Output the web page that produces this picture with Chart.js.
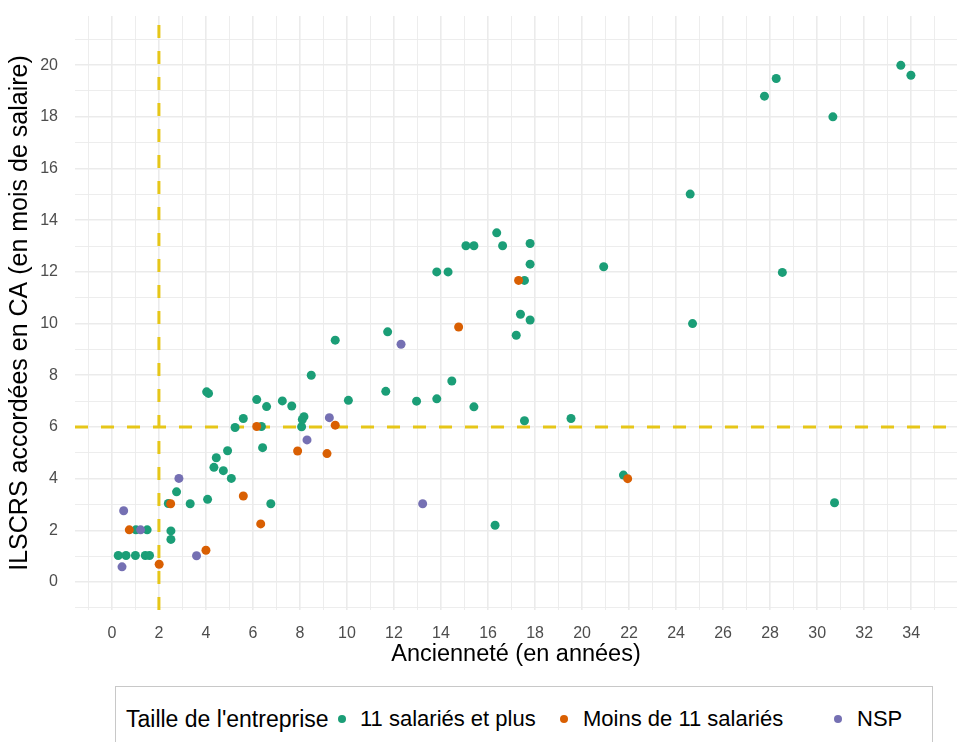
<!DOCTYPE html>
<html lang="fr">
<head>
<meta charset="utf-8">
<script src="https://cdn.jsdelivr.net/npm/chart.js@4.4.1/dist/chart.umd.min.js"></script>
<style>
  html,body{margin:0;padding:0;background:#fff;overflow:hidden;}
  #wrap{position:relative;width:963px;height:742px;}
  #box{position:absolute;left:0;top:0;width:963px;height:680px;}
  #legende{position:absolute;left:115px;top:686px;width:816px;height:80px;border:1.5px solid #c8c8c8;
    font-family:"Liberation Sans",Arial,sans-serif;color:#000;}
  #legende span{position:absolute;top:32px;transform:translateY(-50%);white-space:nowrap;}
  #legende .titre{font-size:23px;}
  #legende .pt{width:8px;height:8px;border-radius:50%;margin-left:-4px;}
  #legende .lab{font-size:22px;}
</style>
</head>
<body>
<div id="wrap">
  <div id="box"><canvas id="nuage"></canvas></div>
  <div id="legende"><span class="titre" style="left:10px">Taille de l'entreprise</span></div>
</div>
<script>
// 11 salariés et plus
const anc11 = [0.27,0.6,1.0,1.42,1.6,1.02,1.5,2.4,2.51,2.51,2.75,3.33,4.07,4.03,4.11,4.34,4.44,4.74,4.92,5.08,
  5.24,5.59,6.16,6.36,6.41,6.58,6.76,7.25,7.65,8.07,8.1,8.17,8.48,9.5,10.06,11.65,11.73,12.96,13.82,13.82,
  14.3,14.46,15.06,15.4,15.4,16.3,16.37,16.62,17.2,17.38,17.55,17.55,17.79,17.79,17.79,19.53,20.92,21.76,
  24.6,24.7,27.76,28.26,28.52,30.67,30.74,33.56,33.99];
const mois11 = [1.03,1.03,1.03,1.03,1.03,2.02,2.02,3.04,1.98,1.65,3.49,3.03,3.2,7.36,7.3,4.44,4.81,4.31,5.08,4.01,
  5.98,6.33,7.06,6.02,5.2,6.79,3.03,7.01,6.81,6.01,6.29,6.4,8.0,9.36,7.03,7.38,9.68,7.0,7.09,12.0,
  12.0,7.78,13.01,13.01,6.78,2.2,13.51,13.01,9.55,10.36,11.67,6.24,13.1,12.3,10.14,6.33,12.2,4.14,
  15.01,10.0,18.8,19.48,11.98,18.0,3.07,19.99,19.61];
// Moins de 11 salariés
const ancMoins = [0.74,2.01,2.5,4.0,5.59,6.16,6.33,7.9,9.15,9.5,14.75,17.3,21.94];
const moisMoins = [2.02,0.69,3.03,1.23,3.33,6.02,2.25,5.07,4.97,6.07,9.87,11.67,4.0];
// NSP
const ancNsp = [0.43,0.5,1.22,2.85,3.6,8.3,9.25,12.3,13.22];
const moisNsp = [0.59,2.76,2.02,4.01,1.02,5.5,6.36,9.2,3.03];

const groupes = ['11 salariés et plus', 'Moins de 11 salariés', 'NSP'];
const couleurs = ['#1B9E77', '#D95F02', '#7570B3'];
const seuilAnciennete = 2;
const seuilMois = 6;

const pts = (xs, ys) => xs.map((v, i) => ({x: v, y: ys[i]}));
const series = [pts(anc11, mois11), pts(ancMoins, moisMoins), pts(ancNsp, moisNsp)];

const police = '"Liberation Sans", Arial, sans-serif';
const grille = {
  color: '#EBEBEB',
  lineWidth: c => (c.tick && c.tick.value % 2 === 0) ? 1.6 : 0.9,
  drawTicks: false
};

const lignesSeuil = {
  id: 'lignesSeuil',
  beforeDatasetsDraw(chart) {
    const {ctx, chartArea: a, scales: {x, y}} = chart;
    const px = x.getPixelForValue(seuilAnciennete);
    const py = y.getPixelForValue(seuilMois);
    ctx.save();
    ctx.strokeStyle = '#E6C619';
    ctx.lineWidth = 3;
    ctx.setLineDash([13, 13]);
    ctx.beginPath();
    ctx.moveTo(px, a.bottom); ctx.lineTo(px, a.top);
    ctx.moveTo(a.left, py); ctx.lineTo(a.right, py);
    ctx.stroke();
    ctx.restore();
  }
};

new Chart(document.getElementById('nuage'), {
  type: 'scatter',
  data: {
    datasets: groupes.map((g, i) => ({
      label: g,
      data: series[i],
      backgroundColor: couleurs[i],
      borderColor: couleurs[i],
      borderWidth: 0,
      pointRadius: 4.5,
      order: 2 - i
    }))
  },
  options: {
    responsive: true,
    maintainAspectRatio: false,
    animation: false,
    layout: {padding: {top: 16, right: 6, left: 0, bottom: 0}},
    plugins: {legend: {display: false}, tooltip: {enabled: false}},
    scales: {
      x: {
        type: 'linear', min: -1.57, max: 35.95,
        afterFit: s => { s.height = 70; },
        border: {display: false},
        grid: grille,
        ticks: {
          stepSize: 1, includeBounds: false, autoSkip: false, maxRotation: 0,
          padding: 14, color: '#4D4D4D', font: {family: police, size: 16},
          callback: v => (v % 2 === 0 && v >= 0) ? String(v) : ''
        },
        title: {display: true, text: 'Ancienneté (en années)', color: '#000',
          font: {family: police, size: 23.5}, padding: {top: 0, bottom: 11}}
      },
      y: {
        type: 'linear', min: -1.08, max: 21.9,
        // pas de marge auto au-dessus : le haut du panneau suit layout.padding
        afterFit: s => { s.width = 75; s.paddingTop = 0; },
        border: {display: false},
        grid: grille,
        ticks: {
          stepSize: 1, includeBounds: false, autoSkip: false,
          padding: 17, color: '#4D4D4D', font: {family: police, size: 16},
          callback: v => (v % 2 === 0 && v >= 0 && v <= 20) ? String(v) : ''
        },
        title: {display: true, text: 'ILSCRS accordées en CA (en mois de salaire)', color: '#000',
          font: {family: police, size: 25}, padding: {top: 5, bottom: 0}}
      }
    }
  },
  plugins: [lignesSeuil]
});

// entrées de légende : centre du point et début du texte (px dans la boîte)
const legPoint = [226, 448, 722];
const legTexte = [244, 467, 741];
const boite = document.getElementById('legende');
groupes.forEach((g, i) => {
  const p = document.createElement('span'); p.className = 'pt';
  p.style.background = couleurs[i]; p.style.left = legPoint[i] + 'px';
  const t = document.createElement('span'); t.className = 'lab';
  t.textContent = g; t.style.left = legTexte[i] + 'px';
  boite.appendChild(p); boite.appendChild(t);
});
</script>
</body>
</html>
